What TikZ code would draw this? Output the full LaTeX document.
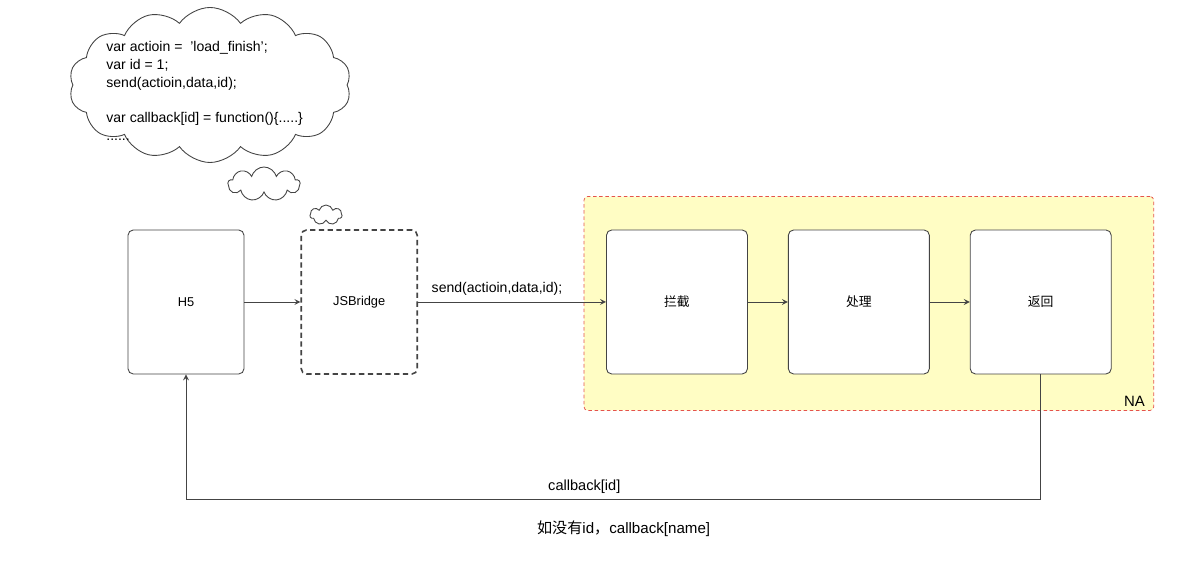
\documentclass[tikz,border=0pt]{standalone}
\usepackage{fontspec}
\setmainfont{Liberation Sans}
\newfontfamily\cjk{Noto Sans CJK SC}
\usepackage{xcolor}
\usetikzlibrary{shapes.symbols, arrows, positioning, fit, calc, backgrounds}

\definecolor{lineGray}{HTML}{444444}
\definecolor{naYellow}{HTML}{FFFDC4}
\definecolor{naRed}{HTML}{E5534B}

\begin{document}
\begin{tikzpicture}[
    font=\fontsize{7.3}{9.9}\selectfont,
    block/.style={draw=lineGray, rectangle, rounded corners=3pt, fill=white, minimum width=2.32cm, minimum height=2.88cm, inner sep=0pt, line width=0.5pt},
    nablock/.style={block, minimum width=2.82cm},
    bridge/.style={block, dash pattern=on 3pt off 2pt, line width=0.9pt},
    puff/.style={draw=lineGray, cloud, fill=white, inner sep=0pt, line width=0.5pt},
    msg/.style={->, >=stealth, draw=lineGray, line width=0.5pt},
    note/.style={midway, above, font=\fontsize{8}{9.9}\selectfont}
]
\useasboundingbox (0,0) rectangle (23.8,11.24);

\node[block] (h5) at (3.72,5.2) {H5};
\node[bridge, right=1.12cm of h5] (jsb) {JSBridge};
\node[nablock, right=3.76cm of jsb] (lanjie) {{\cjk 拦截}};
\node[nablock, right=0.8cm of lanjie] (chuli) {{\cjk 处理}};
\node[nablock, right=0.8cm of chuli] (fanhui) {{\cjk 返回}};

% NA area
\begin{scope}[on background layer]
\node[fit={($(lanjie.north west)+(-0.44,0.66)$) ($(fanhui.south east)+(0.84,-0.72)$)}, inner sep=0pt, draw=naRed, dash pattern=on 2pt off 1.5pt, fill=naYellow, rounded corners=2pt] (na) {};
\end{scope}
\node[anchor=south east, inner xsep=5pt, inner ysep=2pt, font=\fontsize{8.5}{10}\selectfont] (nalabel) at (na.south east) {NA};

% thought clouds
\node[puff, cloud puffs=14, cloud puff arc=110, cloud ignores aspect, minimum width=5.64cm, minimum height=3.1cm] (thought) at (4.2,9.54) {};
\node[anchor=west, align=left, inner sep=0pt, font=\fontsize{8}{10.2}\selectfont] (code) at (2.12,9.42) {var actioin =\ \ 'load\_finish';\\var id = 1;\\send(actioin,data,id);\\[10.2pt]var callback[id] = function()\{.....\}\\......};
\node[puff, cloud puffs=9, minimum width=1.44cm, minimum height=0.68cm] (puffa) at (5.28,7.56) {};
\node[puff, cloud puffs=7, minimum width=0.64cm, minimum height=0.4cm] (puffb) at (6.52,6.94) {};

\draw[msg] (h5) -- (jsb);
\draw[msg] (jsb) -- node[note, pos=0.42] (sendlabel) {send(actioin,data,id);} (lanjie);
\draw[msg] (lanjie) -- (chuli);
\draw[msg] (chuli) -- (fanhui);

\draw[msg] (fanhui.south) -- ++(0,-2.5) -| node[pos=0.267, above, font=\fontsize{8.3}{10}\selectfont] (cbid) {callback[id]} node[pos=0.244, yshift=-0.58cm, font=\fontsize{8.6}{10}\selectfont] (noid) {{\cjk 如没有}id{\cjk ，}callback[name]} (h5.south);

\end{tikzpicture}
\end{document}
